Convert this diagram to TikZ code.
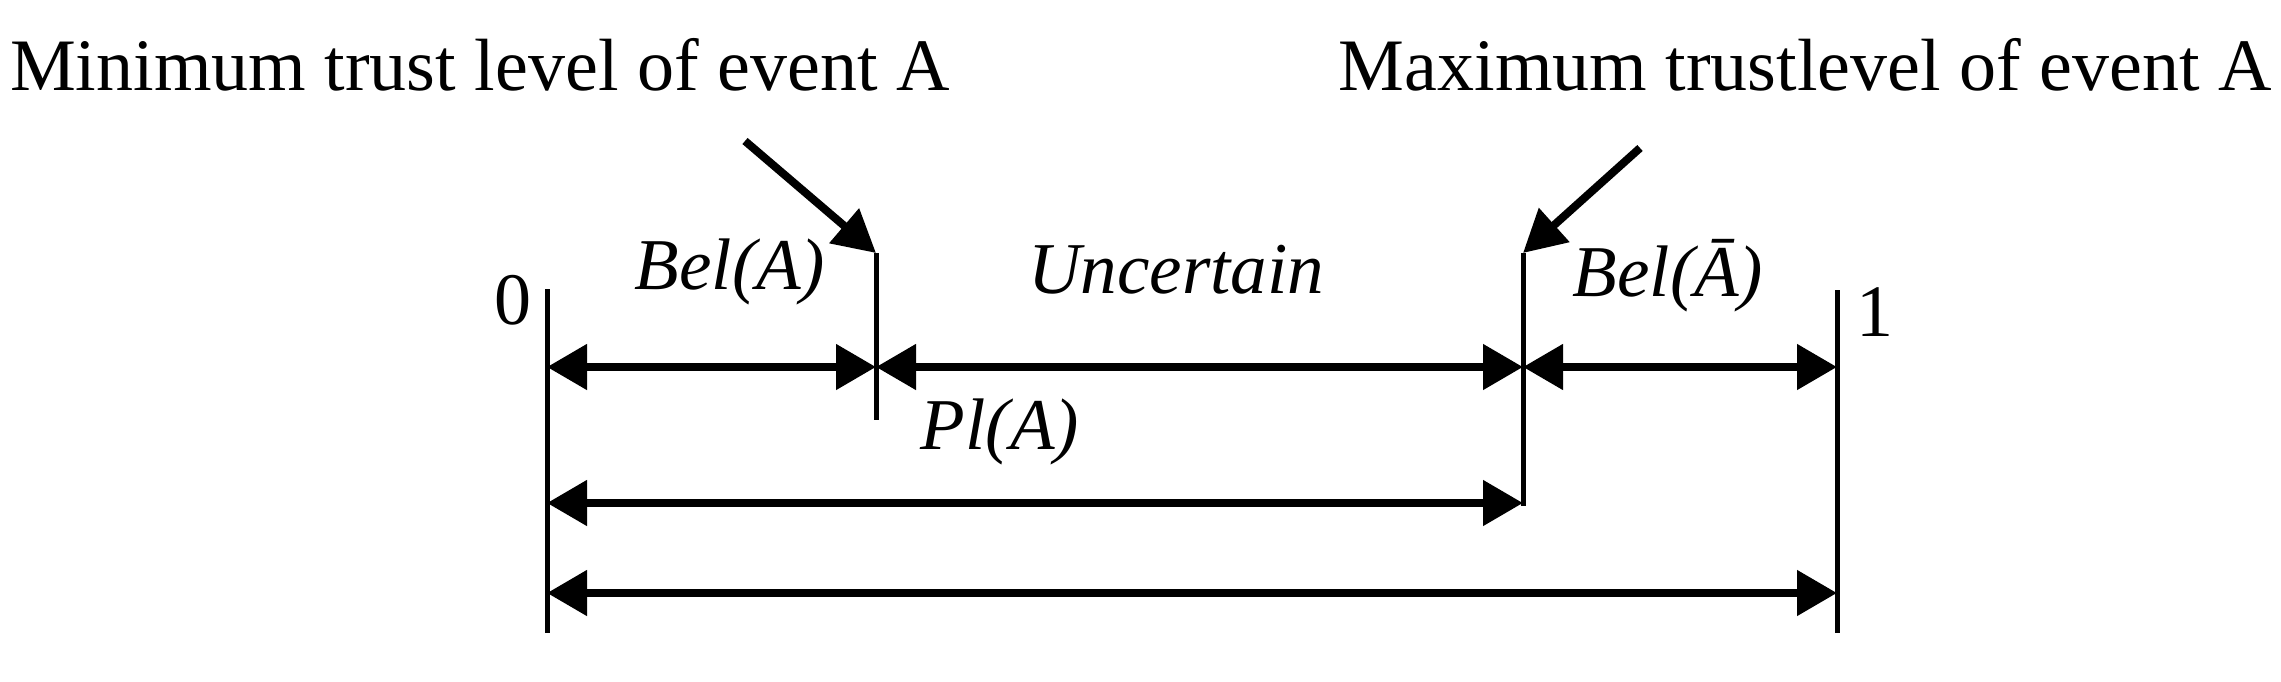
\documentclass[tikz,border=0pt]{standalone}
\usepackage{fontspec}
\setmainfont{Liberation Serif}
\usetikzlibrary{arrows.meta}
\begin{document}
\begin{tikzpicture}[x=1pt,y=-1pt,
  tick/.style={line width=5pt},
  dim/.style={line width=8pt,{Triangle[length=40pt,width=44pt]}-{Triangle[length=40pt,width=44pt]}},
  pointer/.style={line width=8pt,-{Triangle[length=42pt,width=44pt]}},
  lbl/.style={font=\fontsize{73}{85}\selectfont\itshape,inner sep=0pt},
  txt/.style={font=\fontsize{74}{86}\selectfont,inner sep=0pt}]
\useasboundingbox (0,0) rectangle (2281,681);
% ticks
\coordinate (a1) at (547,289); \coordinate (a2) at (547,633);
\coordinate (b1) at (876,253); \coordinate (b2) at (876,420);
\coordinate (c1) at (1523,253); \coordinate (c2) at (1523,506);
\coordinate (d1) at (1837,290); \coordinate (d2) at (1837,633);
\draw[tick] (a1) -- (a2);
\draw[tick] (b1) -- (b2);
\draw[tick] (c1) -- (c2);
\draw[tick] (d1) -- (d2);
% dimension ends
\coordinate (r1a) at (547,367); \coordinate (r1b) at (876,367);
\coordinate (r1c) at (1523,367); \coordinate (r1d) at (1837,367);
\coordinate (r2a) at (547,503); \coordinate (r2c) at (1523,503);
\coordinate (r3a) at (547,593); \coordinate (r3d) at (1837,593);
\draw[dim] (r1a) -- (r1b);
\draw[dim] (r1b) -- (r1c);
\draw[dim] (r1c) -- (r1d);
\draw[dim] (r2a) -- (r2c);
\draw[dim] (r3a) -- (r3d);
% labels
\node[lbl] (bel) at (730,272) {Bel(A)};
\node[lbl] (unc) at (1176,270) {Uncertain};
\node[lbl] (belbar) at (1668,276) {Bel(Ā)};
\node[lbl] (pl) at (1000,432) {Pl(A)};
\node[txt] (zero) at (513,300) {0};
\node[txt] (one) at (1875,312) {1};
\node[txt,anchor=west] (min) at (10,65) {Minimum trust level of event A};
\node[txt,anchor=east] (max) at (2272,65) {Maximum trustlevel of event A};
% pointers
\coordinate (p1) at (745,141);
\coordinate (p2) at (1640,148);
\draw[pointer] (p1) -- (b1);
\draw[pointer] (p2) -- (c1);
\end{tikzpicture}
\end{document}
